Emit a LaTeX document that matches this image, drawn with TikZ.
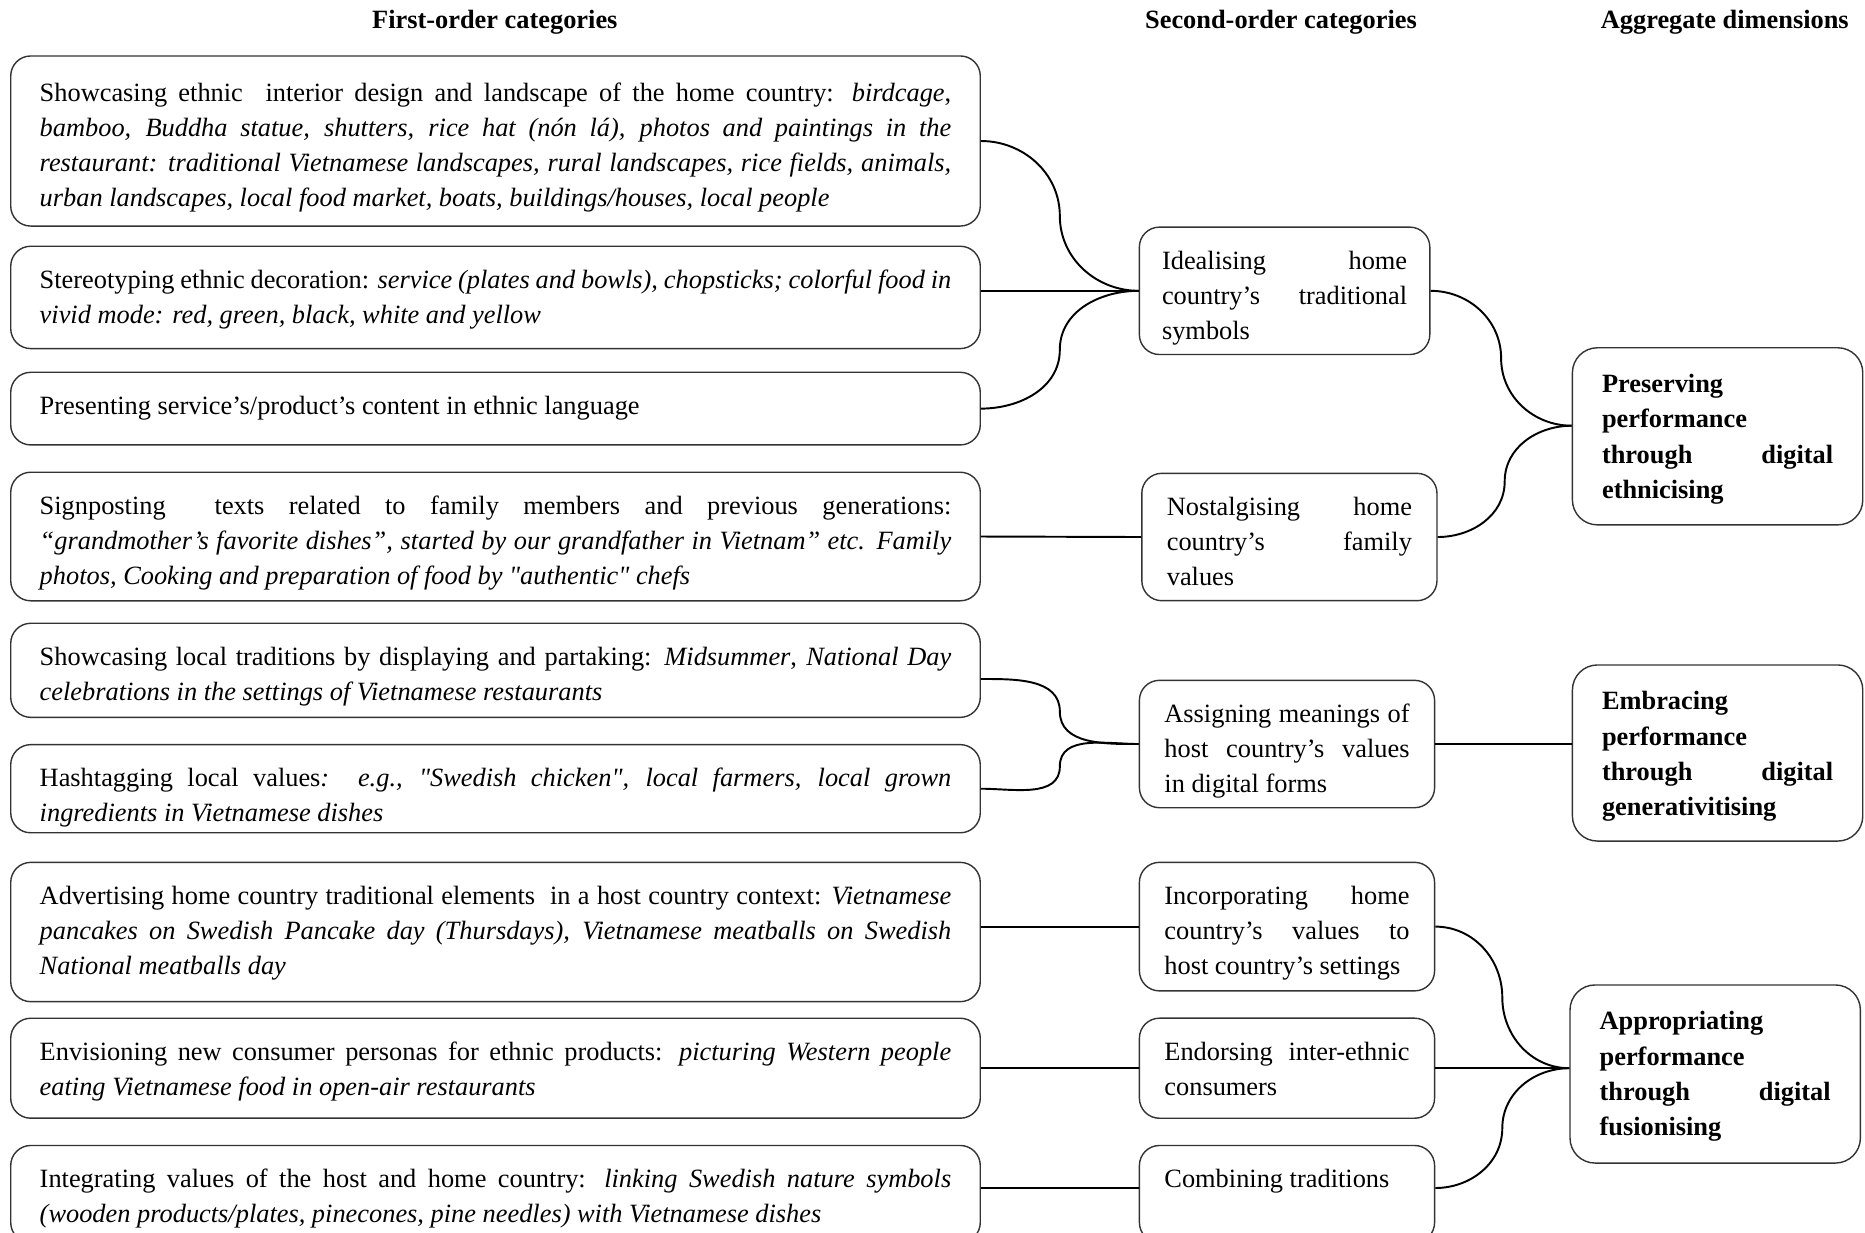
\documentclass[tikz,border=0pt]{standalone}
\usepackage{fontspec}
\setmainfont{Liberation Serif}
\usepackage{tikz}
\usetikzlibrary{calc}

\tikzset{
	firstcat/.style={draw=black!80, line width=0.4pt, rounded corners=0.2cm, text width=9.11cm, inner xsep=0.29cm, inner ysep=0pt, text height=0.42cm, align=justify},
	secondcat/.style={draw=black!80, line width=0.4pt, rounded corners=0.2cm, text width=2.45cm, inner xsep=0.25cm, inner ysep=0pt, text height=0.42cm, align=justify},
	dimension/.style={draw=black!80, line width=0.4pt, rounded corners=0.25cm, text width=2.31cm, inner xsep=0.296cm, inner ysep=0pt, text height=0.45cm, align=justify, font=\fontsize{7.5}{10}\selectfont\bfseries},
	heading/.style={font=\fontsize{7.5}{10}\selectfont\bfseries},
	link/.style={line width=0.55pt}
}

\begin{document}
\begin{tikzpicture}[x=0.01cm, y=-0.01cm, every node/.style={font=\fontsize{7.5}{10}\selectfont}]
			%%%%% START %%%%%
			
			\useasboundingbox (0,0) rectangle (1865,1232);
			\clip (0,0) rectangle (1865,1232);
			
			\node[heading] (h1) at (494.8, 22.6) {First-order categories};
			\node[heading] (h2) at (1281, 22.6) {Second-order categories};
			\node[heading] (h3) at (1724.8, 22.6) {Aggregate dimensions};
			
			% first-order categories
			\node[firstcat, text height=0.455cm, text depth=1.245cm] (B1) at (495.5, 141) {Showcasing ethnic\ \ interior design and landscape of the home country: \textit{birdcage},\linebreak \textit{bamboo, Buddha statue, shutters, rice hat (nón lá), photos and paintings in the}\linebreak \textit{restaurant: traditional Vietnamese landscapes, rural landscapes, rice fields, animals,}\linebreak \textit{urban landscapes, local food market, boats, buildings/houses, local people}};
			\node[firstcat, text depth=0.603cm] (B2) at (495.5, 297.4) {Stereotyping ethnic decoration: \textit{service (plates and bowls), chopsticks; colorful food in}\linebreak \textit{vivid mode: red, green, black, white and yellow}};
			\node[firstcat, text depth=0.306cm] (B3) at (495.5, 408.6) {Presenting service’s/product’s content in ethnic language};
			\node[firstcat, text depth=0.865cm] (B4) at (495.5, 536.5) {Signposting\ \ texts related to family members and previous generations:\linebreak \textit{“grandmother’s favorite dishes”, started by our grandfather in Vietnam” etc. Family}\linebreak \textit{photos, Cooking and preparation of food by \textquotedbl authentic\textquotedbl\ chefs}};
			\node[firstcat, text depth=0.52cm] (B5) at (495.5, 670.3) {Showcasing local traditions by displaying and partaking: \textit{Midsummer}, \textit{National Day}\linebreak \textit{celebrations in the settings of Vietnamese restaurants}};
			\node[firstcat, text depth=0.461cm] (B6) at (495.5, 788.7) {Hashtagging local values\textit{:\ \ e.g., \textquotedbl Swedish chicken\textquotedbl, local farmers, local grown}\linebreak \textit{ingredients in Vietnamese dishes}};
			\node[firstcat, text depth=0.972cm] (B7) at (495.5, 932) {Advertising home country traditional elements\ \ in a host country context: \textit{Vietnamese}\linebreak \textit{pancakes on Swedish Pancake day (Thursdays), Vietnamese meatballs on Swedish}\linebreak \textit{National meatballs day}};
			\node[firstcat, text depth=0.579cm] (B8) at (495.5, 1068.2) {Envisioning new consumer personas for ethnic products: \textit{picturing Western people}\linebreak \textit{eating Vietnamese food in open-air restaurants}};
			\node[firstcat, text depth=0.55cm] (B9) at (495.5, 1194) {Integrating values of the host and home country: \textit{linking Swedish nature symbols}\linebreak \textit{(wooden products/plates, pinecones, pine needles) with Vietnamese dishes}};
			
			% second-order categories
			\node[secondcat, inner xsep=0.2265cm, text depth=0.853cm] (M1) at (1284.6, 290.8) {Idealising home\linebreak country’s traditional\linebreak symbols};
			\node[secondcat, text depth=0.853cm] (M2) at (1289.4, 537) {Nostalgising home\linebreak country’s family\linebreak values};
			\node[secondcat, text depth=0.853cm] (M3) at (1287, 744) {Assigning meanings of\linebreak host country’s values\linebreak in digital forms};
			\node[secondcat, text depth=0.865cm] (M4) at (1287, 926.6) {Incorporating home\linebreak country’s values to\linebreak host country’s settings};
			\node[secondcat, text depth=0.58cm] (M5) at (1287, 1068.2) {Endorsing inter-ethnic\linebreak consumers};
			\node[secondcat, text depth=0.55cm] (M6) at (1287, 1194) {Combining traditions};
			
			% aggregate dimensions
			\node[dimension, text depth=1.32cm] (R1) at (1717.6, 436.3) {Preserving\\ performance\\ through digital\linebreak ethnicising};
			\node[dimension, text depth=1.31cm] (R2) at (1717.6, 753) {Embracing\\ performance\\ through digital\linebreak generativitising};
			\node[dimension, text depth=1.33cm] (R3) at (1715.2, 1074) {Appropriating\\ performance\\ through digital\linebreak fusionising};
			
			\coordinate (hub1) at ($(R1.west)+(0,-10.6)$);
			\coordinate (hub3) at (M5.east -| R3.west);
			
			% links to second-order categories
			\draw[link] (B1.east) to[out=0,in=90] ($(B1.east)!.5!(M1.west)$) to[out=-90,in=180] (M1.west);
			\draw[link] (M1.west -| B2.east) -- (M1.west);
			\draw[link] (B3.east) to[out=0,in=-90] ($(B3.east)!.5!(M1.west)$) to[out=90,in=180] (M1.west);
			
			\draw[link] (B4.east) -- (M2.west);
			
			\draw[link] ($(B5.east)+(0,8.7)$) to[out=0,in=90] ($($(B5.east)+(0,8.7)$)!.5!(M3.west)$) to[out=-90,in=180] (M3.west);
			\draw[link] (B6.east) to[out=0,in=-90] ($(B6.east)!.5!(M3.west)$) to[out=90,in=180] (M3.west);
			
			\draw[link] (M4.west -| B7.east) -- (M4.west);
			\draw[link] (B8.east) -- (M5.west);
			\draw[link] ($(B9.east)+(0,-6)$) -- ($(M6.west)+(0,-6)$);
			
			% links to aggregate dimensions
			\draw[link] (M1.east) to[out=0,in=90] ($(M1.east)!.5!(hub1)$) to[out=-90,in=180] (hub1);
			\draw[link] (M2.east) to[out=0,in=-90] ($(M2.east)!.5!(hub1)$) to[out=90,in=180] (hub1);
			
			\draw[link] (M3.east) -- (M3.east -| R2.west);
			
			\draw[link] (M4.east) to[out=0,in=90] ($(M4.east)!.5!(hub3)$) to[out=-90,in=180] (hub3);
			\draw[link] (M5.east) -- (hub3);
			\draw[link] ($(M6.east)+(0,-6)$) to[out=0,in=-90] ($($(M6.east)+(0,-6)$)!.5!(hub3)$) to[out=90,in=180] (hub3);
			
			%%%%% END %%%%%
\end{tikzpicture}
\end{document}
